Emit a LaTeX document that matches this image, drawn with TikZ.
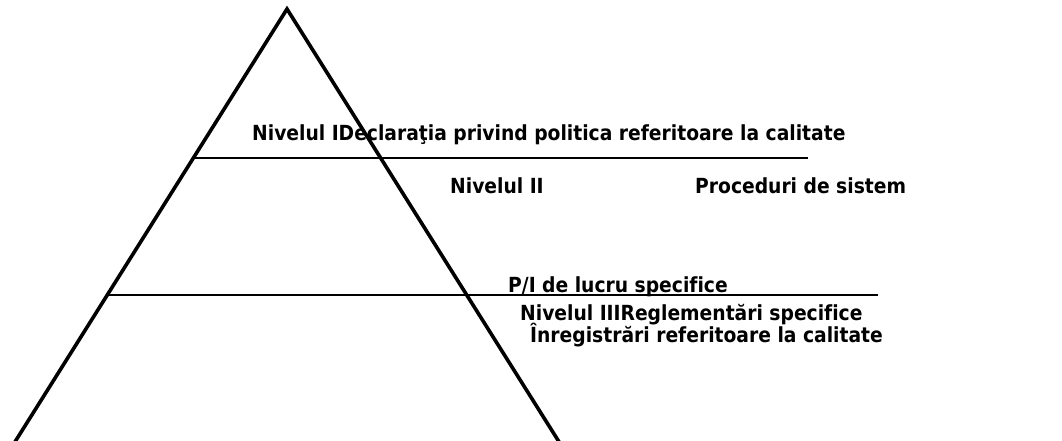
\documentclass[tikz,border=0pt]{standalone}
\usepackage{fontspec}
\setmainfont{DejaVu Sans Condensed}[BoldFont={DejaVu Sans Condensed Bold},Ligatures=NoCommon]
\begin{document}
\begin{tikzpicture}[x=1pt,y=-1pt,
  lbl/.style={anchor=base west,inner sep=0pt,font=\fontsize{20.8}{24}\selectfont\bfseries},
  side/.style={line width=3.6pt,line join=miter},
  level/.style={line width=1.8pt}]
\useasboundingbox[fill=white] (0,0) rectangle (1062,441);
\coordinate (apex) at (287,9);
\coordinate (bl) at (13,445);
\coordinate (br) at (561,445);
\draw[side] (bl) -- (apex) -- (br);
\coordinate (l1a) at (193,158);
\coordinate (l1b) at (808,158);
\coordinate (l2a) at (107,295);
\coordinate (l2b) at (878,295);
\draw[level] (l1a) -- (l1b);
\draw[level] (l2a) -- (l2b);
\node[lbl] (t1) at (252,140) {Nivelul IDeclaraţia privind politica referitoare la calitate};
\node[lbl] (t2) at (450,193) {Nivelul II};
\node[lbl] (t3) at (695,193) {Proceduri de sistem};
\node[lbl] (t4) at (508,292) {P/I de lucru specifice};
\node[lbl] (t5) at (520,320) {Nivelul IIIReglementări specifice};
\node[lbl] (t6) at (530,342) {Înregistrări referitoare la calitate};
\end{tikzpicture}
\end{document}
